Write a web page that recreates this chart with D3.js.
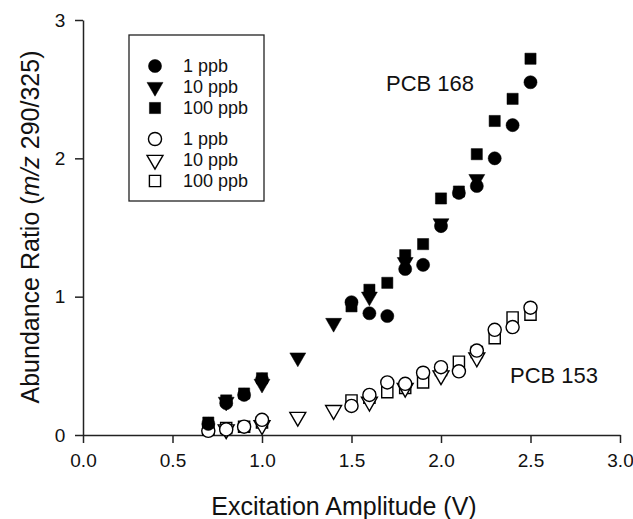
<!DOCTYPE html>
<meta charset="utf-8">
<style>
body { margin: 0; padding: 0; background: #fff; }
text { font-family: "Liberation Sans", Arial, sans-serif; fill: #111; }
.axis path, .axis line { stroke: #222; stroke-width: 1.5px; }
</style>
<body>
<svg width="633" height="519"></svg>
<script src="https://d3js.org/d3.v7.min.js"></script>
<script>
// PCB 168 (filled markers)
var x168Circle = [0.7, 0.8, 0.9, 1.0, 1.5, 1.6, 1.7, 1.8, 1.9, 2.0, 2.1, 2.2, 2.3, 2.4, 2.5];
var y168Circle = [0.08, 0.23, 0.29, 0.40, 0.96, 0.88, 0.86, 1.20, 1.23, 1.51, 1.75, 1.80, 2.00, 2.24, 2.55];
var x168Tri = [0.8, 1.0, 1.2, 1.4, 1.6, 1.8, 2.0, 2.2];
var y168Tri = [0.24, 0.37, 0.56, 0.81, 1.00, 1.25, 1.53, 1.85];
var x168Sq = [0.7, 0.8, 0.9, 1.0, 1.5, 1.6, 1.7, 1.8, 1.9, 2.0, 2.1, 2.2, 2.3, 2.4, 2.5];
var y168Sq = [0.09, 0.25, 0.30, 0.41, 0.93, 1.05, 1.10, 1.30, 1.38, 1.71, 1.76, 2.03, 2.27, 2.43, 2.72];

// PCB 153 (open markers)
var x153Circle = [0.7, 0.8, 0.9, 1.0, 1.5, 1.6, 1.7, 1.8, 1.9, 2.0, 2.1, 2.2, 2.3, 2.4, 2.5];
var y153Circle = [0.03, 0.04, 0.06, 0.11, 0.21, 0.29, 0.38, 0.37, 0.45, 0.49, 0.46, 0.61, 0.76, 0.78, 0.92];
var x153Tri = [0.8, 1.0, 1.2, 1.4, 1.6, 1.8, 2.0, 2.2];
var y153Tri = [0.04, 0.07, 0.13, 0.18, 0.24, 0.34, 0.43, 0.56];
var x153Sq = [0.7, 0.8, 0.9, 1.0, 1.5, 1.6, 1.7, 1.8, 1.9, 2.0, 2.1, 2.2, 2.3, 2.4, 2.5];
var y153Sq = [0.04, 0.05, 0.06, 0.09, 0.25, 0.27, 0.31, 0.34, 0.38, 0.47, 0.53, 0.60, 0.70, 0.85, 0.87];

var xTicks = [0, 0.5, 1.0, 1.5, 2.0, 2.5, 3.0];
var yTicks = [0, 1, 2, 3];
var legendLabels = ["1 ppb", "10 ppb", "100 ppb", "1 ppb", "10 ppb", "100 ppb"];

var svg = d3.select("svg");

var x = d3.scaleLinear().domain([0, 3]).range([83, 620]);
var y = d3.scaleLinear().domain([0, 3]).range([435, 20]);

// axes
svg.append("g")
    .attr("class", "axis")
    .attr("transform", "translate(0," + y(0) + ")")
    .call(d3.axisBottom(x).tickValues(xTicks).tickFormat(d3.format(".1f")).tickSize(8).tickSizeOuter(0))
    .call(function(g) {
        g.selectAll("text").attr("y", 0).attr("dy", "1.7em").style("font-size", "19px");
    });

svg.append("g")
    .attr("class", "axis")
    .attr("transform", "translate(" + x(0) + ",0)")
    .call(d3.axisLeft(y).tickValues(yTicks).tickFormat(d3.format("d")).tickSize(8).tickSizeOuter(0))
    .call(function(g) {
        g.selectAll("text").attr("dx", "-0.35em").style("font-size", "19px");
    });

// axis titles
svg.append("text")
    .attr("x", 344).attr("y", 515)
    .attr("text-anchor", "middle")
    .style("font-size", "25px")
    .text("Excitation Amplitude (V)");

var yt = svg.append("text")
    .attr("transform", "translate(39,227) rotate(-90)")
    .attr("text-anchor", "middle")
    .style("font-size", "25px");
yt.append("tspan").text("Abundance Ratio (");
yt.append("tspan").style("font-style", "italic").text("m/z");
yt.append("tspan").text(" 290/325)");

// markers
var symCircle = d3.symbol().type(d3.symbolCircle).size(135);
var symTri = d3.symbol().type(d3.symbolTriangle).size(110);
var symSq = d3.symbol().type(d3.symbolSquare).size(125);

function zip(xs, ys) {
    return xs.map(function(v, i) { return [v, ys[i]]; });
}

function drawSeries(data, sym, filled, flip) {
    svg.append("g").selectAll("path")
        .data(data)
        .enter().append("path")
        .attr("d", sym)
        .attr("transform", function(d) {
            return "translate(" + x(d[0]) + "," + y(d[1]) + ")" + (flip ? " rotate(180)" : "");
        })
        .attr("fill", filled ? "#000" : "#fff")
        .attr("stroke", "#000")
        .attr("stroke-width", filled ? 0.5 : 1.4);
}

// open first, filled on top
drawSeries(zip(x153Sq, y153Sq), symSq, false, false);
drawSeries(zip(x153Tri, y153Tri), symTri, false, true);
drawSeries(zip(x153Circle, y153Circle), symCircle, false, false);

drawSeries(zip(x168Circle, y168Circle), symCircle, true, false);
drawSeries(zip(x168Tri, y168Tri), symTri, true, true);
drawSeries(zip(x168Sq, y168Sq), symSq, true, false);

// labels
svg.append("text").attr("x", 386).attr("y", 91).style("font-size", "22px").text("PCB 168");
svg.append("text").attr("x", 510).attr("y", 383).style("font-size", "22px").text("PCB 153");

// legend
var legend = svg.append("g");
legend.append("rect")
    .attr("x", 129).attr("y", 35).attr("width", 135).attr("height", 166)
    .attr("fill", "none").attr("stroke", "#222").attr("stroke-width", 1.3);

var legendRows = [66, 87, 108, 139, 160, 181];
var legendSyms = [symCircle, symTri, symSq, symCircle, symTri, symSq];
legendLabels.forEach(function(lab, i) {
    var filled = i < 3;
    legend.append("path")
        .attr("d", legendSyms[i])
        .attr("transform", "translate(155," + legendRows[i] + ")" + (i % 3 == 1 ? " rotate(180)" : ""))
        .attr("fill", filled ? "#000" : "#fff")
        .attr("stroke", "#000")
        .attr("stroke-width", filled ? 0.5 : 1.4);
    legend.append("text")
        .attr("x", 183).attr("y", legendRows[i] + 6)
        .style("font-size", "18px")
        .text(lab);
});
</script>
</body>
